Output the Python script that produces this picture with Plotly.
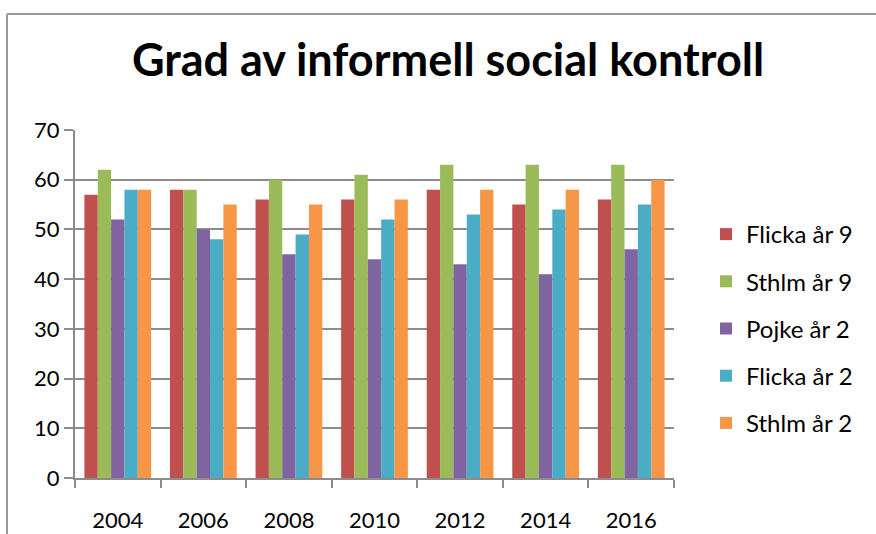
import plotly.graph_objects as go

years = ["2004", "2006", "2008", "2010", "2012", "2014", "2016"]
flicka_9 = [57, 58, 56, 56, 58, 55, 56]
sthlm_9 = [62, 58, 60, 61, 63, 63, 63]
pojke_2 = [52, 50, 45, 44, 43, 41, 46]
flicka_2 = [58, 48, 49, 52, 53, 54, 55]
sthlm_2 = [58, 55, 55, 56, 58, 58, 60]

series = [
    ("Flicka år 9", flicka_9, "#C0504D"),
    ("Sthlm år 9", sthlm_9, "#9BBB59"),
    ("Pojke år 2", pojke_2, "#8064A2"),
    ("Flicka år 2", flicka_2, "#4BACC6"),
    ("Sthlm år 2", sthlm_2, "#F79646"),
]

W, H = 876, 534
L, R, T, B = 75, 202, 130, 56
pw, ph = W - L - R, H - T - B

fig = go.Figure()
for i, (name, vals, col) in enumerate(series):
    fig.add_trace(go.Bar(x=years, y=vals, name=name, marker_color=col,
                         marker_line_width=0, legendgroup=f"g{i}"))

grid = "#8C8C8C"
fig.update_layout(
    width=W, height=H,
    margin=dict(l=L, r=R, t=T, b=B, autoexpand=False),
    paper_bgcolor="white", plot_bgcolor="white",
    barmode="group", bargap=0.22, bargroupgap=0,
    font=dict(family="Lato, 'Open Sans', sans-serif", size=22, color="black"),
    title=dict(text="<b>Grad av informell social kontroll</b>",
               x=448 / W, xanchor="center", y=1 - 60 / H, yanchor="middle",
               font=dict(size=45, family="Lato, sans-serif", color="black")),
    legend=dict(x=(706 - L) / pw, xanchor="left", y=1 - (212 - T) / ph, yanchor="top",
                tracegroupgap=13, font=dict(size=24), itemwidth=30,
                bgcolor="rgba(0,0,0,0)"),
    showlegend=True,
    xaxis=dict(showline=True, linecolor=grid, linewidth=2, ticks="outside",
               tickson="boundaries", ticklen=8, tickwidth=2, tickcolor=grid,
               showgrid=False, tickfont=dict(size=22), ticklabelstandoff=22,
               automargin=False),
    yaxis=dict(range=[0, 70], dtick=10, showline=True, linecolor=grid, linewidth=2,
               ticks="outside", ticklen=9, tickwidth=2, tickcolor=grid,
               showgrid=True, gridcolor=grid, gridwidth=2, zeroline=False,
               tickfont=dict(size=22), automargin=False),
    shapes=[
        dict(type="line", xref="paper", yref="paper",
             x0=(7 - L) / pw, x1=(W + 5 - L) / pw,
             y0=1 + (T - 14) / ph, y1=1 + (T - 14) / ph,
             line=dict(color="#9A9A9A", width=2)),
        dict(type="line", xref="paper", yref="paper",
             x0=(7 - L) / pw, x1=(7 - L) / pw,
             y0=1 + (T - 14) / ph, y1=-(B + 5) / ph,
             line=dict(color="#9A9A9A", width=2)),
    ],
)

fig.write_html("out.html", config={"displayModeBar": False},
               post_script="document.body.style.margin='0';")
